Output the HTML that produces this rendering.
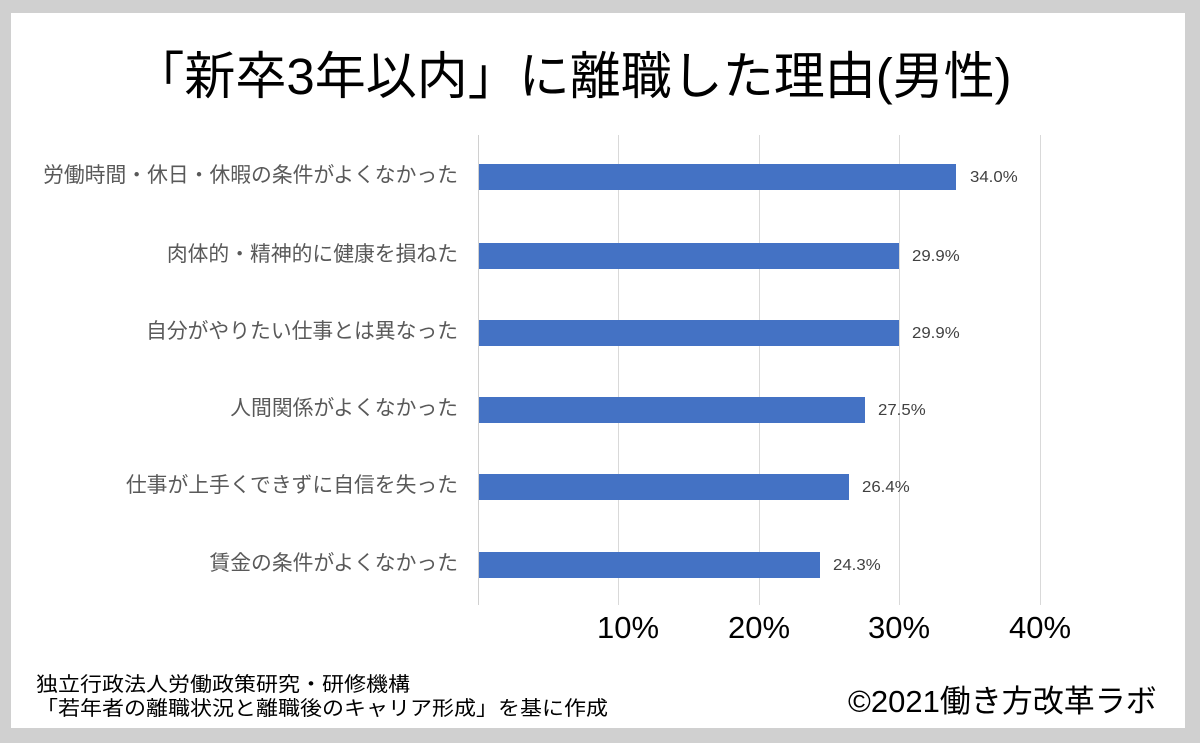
<!DOCTYPE html>
<html><head><meta charset="utf-8"><style>
html,body{margin:0;padding:0}
body{width:1200px;height:743px;background:#d0d0d0;position:relative;overflow:hidden;font-family:"Liberation Sans","Noto Sans CJK JP",sans-serif}
#w{position:absolute;left:11px;top:13px;width:1174px;height:715px;background:#fff}
.a{position:absolute;white-space:nowrap}
.g{position:absolute;top:135px;width:1px;height:470px;background:#d9d9d9}
.bar{position:absolute;left:479px;height:26px;background:#4472c4}
.lab{position:absolute;right:742px;font-size:20.8px;color:#595959;text-align:right;white-space:nowrap;line-height:24px}
.val{position:absolute;font-size:16px;color:#404040;line-height:20px;transform:scaleX(1.05);transform-origin:left}
.t{position:absolute;top:610px;font-size:31px;color:#000;width:120px;text-align:center}
</style></head><body>
<div id="w"></div>
<div class="a" style="left:0;width:1145px;top:47px;text-align:center;font-size:51px;line-height:60px;color:#000">「新卒3年以内」に離職した理由(男性)</div>
<div class="g" style="left:478px;background:#d0d0d0"></div>
<div class="g" style="left:618px"></div>
<div class="g" style="left:759px"></div>
<div class="g" style="left:899px"></div>
<div class="g" style="left:1040px"></div>

<div class="bar" style="top:164px;width:477px"></div>
<div class="bar" style="top:243px;width:420px"></div>
<div class="bar" style="top:320px;width:420px"></div>
<div class="bar" style="top:397px;width:386px"></div>
<div class="bar" style="top:474px;width:370px"></div>
<div class="bar" style="top:552px;width:341px"></div>

<div class="lab" style="top:164px">労働時間・休日・休暇の条件がよくなかった</div>
<div class="lab" style="top:243px">肉体的・精神的に健康を損ねた</div>
<div class="lab" style="top:320px">自分がやりたい仕事とは異なった</div>
<div class="lab" style="top:397px">人間関係がよくなかった</div>
<div class="lab" style="top:474px">仕事が上手くできずに自信を失った</div>
<div class="lab" style="top:552px">賃金の条件がよくなかった</div>

<div class="val" style="left:970px;top:168px">34.0%</div>
<div class="val" style="left:912px;top:247px">29.9%</div>
<div class="val" style="left:912px;top:324px">29.9%</div>
<div class="val" style="left:878px;top:401px">27.5%</div>
<div class="val" style="left:862px;top:478px">26.4%</div>
<div class="val" style="left:833px;top:556px">24.3%</div>

<div class="t" style="left:568px">10%</div>
<div class="t" style="left:699px">20%</div>
<div class="t" style="left:839px">30%</div>
<div class="t" style="left:980px">40%</div>

<div class="a" style="left:36px;top:673px;font-size:20px;line-height:24px;color:#000;transform:scaleX(1.1);transform-origin:left">独立行政法人労働政策研究・研修機構<br>「若年者の離職状況と離職後のキャリア形成」を基に作成</div>
<div class="a" style="left:848px;top:676px;font-size:31px;color:#000">©2021働き方改革ラボ</div>
</body></html>
